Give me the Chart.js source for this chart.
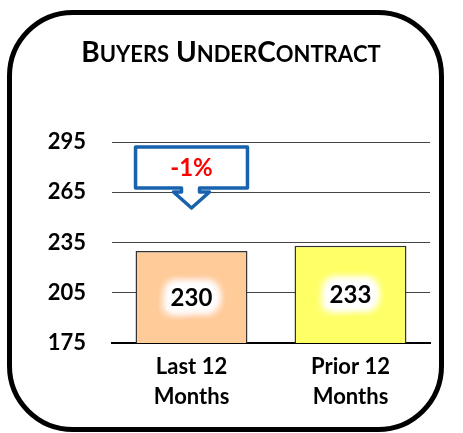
<!DOCTYPE html>
<html>
<head>
<meta charset="utf-8">
<script src="https://cdn.jsdelivr.net/npm/chart.js@4.4.1/dist/chart.umd.min.js"></script>
<style>
  html, body { margin: 0; padding: 0; background: #fff; }
  #wrap { position: relative; width: 463px; height: 433px; overflow: hidden; }
  #frame {
    position: absolute; left: 7px; top: 10px; width: 427px; height: 412px;
    border: 5px solid #000; border-radius: 66px; pointer-events: none;
  }
  canvas { position: absolute; left: 0; top: 0; }
</style>
</head>
<body>
<div id="wrap">
  <canvas id="chart" width="463" height="433"></canvas>
  <div id="frame"></div>
</div>
<script>
const titleText = 'Buyers UnderContract';
const categories = [['Last 12', 'Months'], ['Prior 12', 'Months']];
const values = [230, 233];
const barColors = ['#FFCC99', '#FFFF66'];
const yTicks = [175, 205, 235, 265, 295];
const changeLabel = '-1%';

const FONT = 'Lato, "Open Sans", sans-serif';

// titulo con versalitas: mayusculas grandes, minusculas como mayusculas chicas
const smallCapsTitle = {
    id: 'smallCapsTitle',
    afterDraw(chart) {
        const ctx = chart.ctx;
        const big = 'bold 28px ' + FONT;
        const small = 'bold 22px ' + FONT;
        const parts = [...titleText].map(ch => {
            const lower = ch !== ch.toUpperCase();
            return { t: ch.toUpperCase(), f: lower ? small : big };
        });
        let total = 0;
        parts.forEach(p => { ctx.font = p.f; p.w = ctx.measureText(p.t).width; total += p.w; });
        let x = 231 - total / 2;
        ctx.save();
        ctx.fillStyle = '#000';
        ctx.textBaseline = 'alphabetic';
        parts.forEach(p => {
            ctx.font = p.f;
            ctx.fillText(p.t, x, 62);
            x += p.w;
        });
        ctx.restore();
    }
};

// etiquetas de valor con halo blanco
const glowLabels = {
    id: 'glowLabels',
    afterDatasetsDraw(chart) {
        const ctx = chart.ctx;
        const meta = chart.getDatasetMeta(0);
        const base = chart.scales.y.bottom;
        ctx.save();
        ctx.font = 'bold 24px ' + FONT;
        ctx.textAlign = 'center';
        ctx.textBaseline = 'middle';
        meta.data.forEach((bar, i) => {
            const y = (bar.y + base) / 2 + 1;
            ctx.shadowColor = '#fff';
            ctx.shadowBlur = 12;
            ctx.fillStyle = '#fff';
            ctx.strokeStyle = '#fff';
            ctx.lineWidth = 6;
            for (let k = 0; k < 6; k++) {
                ctx.strokeText(String(values[i]), bar.x, y);
                ctx.fillText(String(values[i]), bar.x, y);
            }
            ctx.shadowBlur = 0;
            ctx.fillStyle = '#000';
            ctx.fillText(String(values[i]), bar.x, y);
        });
        ctx.restore();
    }
};

// globo con flecha arriba de la primera barra
const callout = {
    id: 'callout',
    afterDatasetsDraw(chart) {
        const ctx = chart.ctx;
        const bar = chart.getDatasetMeta(0).data[0];
        const cx = bar.x;
        const half = bar.width / 2;
        const yScale = chart.scales.y;
        const top = yScale.getPixelForValue(295) + 5;
        const boxBottom = top + 41;
        const tip = boxBottom + 20;
        ctx.save();
        ctx.beginPath();
        ctx.moveTo(cx - half, top);
        ctx.lineTo(cx + half, top);
        ctx.lineTo(cx + half, boxBottom);
        ctx.lineTo(cx + 8, boxBottom);
        ctx.lineTo(cx + 8, boxBottom + 4);
        ctx.lineTo(cx + 18, boxBottom + 4);
        ctx.lineTo(cx, tip);
        ctx.lineTo(cx - 18, boxBottom + 4);
        ctx.lineTo(cx - 10, boxBottom + 4);
        ctx.lineTo(cx - 10, boxBottom);
        ctx.lineTo(cx - half, boxBottom);
        ctx.closePath();
        ctx.fillStyle = '#fff';
        ctx.fill();
        ctx.lineWidth = 3.5;
        ctx.lineJoin = 'round';
        ctx.strokeStyle = '#1862AE';
        ctx.stroke();
        ctx.font = 'bold 24px ' + FONT;
        ctx.fillStyle = '#FF0000';
        ctx.textAlign = 'center';
        ctx.textBaseline = 'middle';
        ctx.fillText(changeLabel, cx, (top + boxBottom) / 2 + 1);
        ctx.restore();
    }
};

new Chart(document.getElementById('chart'), {
    type: 'bar',
    data: {
        labels: categories,
        datasets: [{
            data: values,
            backgroundColor: barColors,
            borderColor: '#333',
            borderWidth: 1.5,
            borderSkipped: false,
            barPercentage: 0.704,
            categoryPercentage: 1
        }]
    },
    options: {
        responsive: false,
        animation: false,
        layout: { padding: { top: 142, right: 33, bottom: 0, left: 0 } },
        plugins: {
            legend: { display: false },
            title: { display: false },
            tooltip: { enabled: false }
        },
        scales: {
            x: {
                grid: { display: false, drawTicks: false },
                border: { display: true, color: '#000', width: 2 },
                ticks: {
                    color: '#000',
                    padding: 9,
                    font: { family: FONT, size: 22, weight: 'bold', lineHeight: 1.36 }
                },
                afterFit(scale) { scale.height = 90; }
            },
            y: {
                min: 175,
                max: 295,
                afterBuildTicks(scale) { scale.ticks = yTicks.map(v => ({ value: v })); },
                grid: { color: '#444', lineWidth: 1, drawTicks: false },
                border: { display: false },
                ticks: {
                    color: '#000',
                    padding: 26,
                    font: { family: FONT, size: 22, weight: 'bold' }
                },
                afterFit(scale) { scale.width = 112; }
            }
        }
    },
    plugins: [smallCapsTitle, callout, glowLabels]
});
</script>
</body>
</html>
